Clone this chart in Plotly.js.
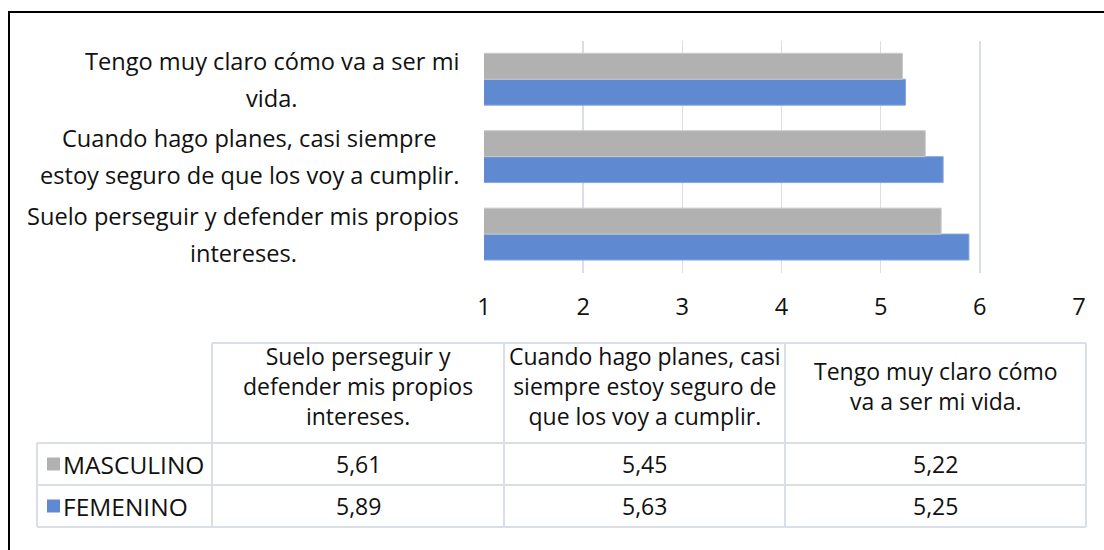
<!DOCTYPE html>
<html>
<head>
<meta charset="utf-8">
<script src="https://cdn.plot.ly/plotly-3.0.1.min.js"></script>
<style>html,body{margin:0;padding:0;background:#fff;}#chart{width:1104px;height:550px;}</style>
</head>
<body>
<div id="chart"></div>
<script>
// ---- data ----
const categories = [
  'Suelo perseguir y defender mis propios intereses.',
  'Cuando hago planes, casi siempre estoy seguro de que los voy a cumplir.',
  'Tengo muy claro cómo va a ser mi vida.'
];
const axisLabels = [
  'Suelo perseguir y defender mis propios<br>intereses.',
  'Cuando hago planes, casi siempre<br>estoy seguro de que los voy a cumplir.',
  'Tengo muy claro cómo va a ser mi<br>vida.'
];
const tableHeaders = [
  'Suelo perseguir y<br>defender mis propios<br>intereses.',
  'Cuando hago planes, casi<br>siempre estoy seguro de<br>que los voy a cumplir.',
  'Tengo muy claro cómo<br>va a ser mi vida.'
];
const seriesNames = ['MASCULINO', 'FEMENINO'];
const masculino = [5.61, 5.45, 5.22];
const femenino = [5.89, 5.63, 5.25];
const xTicks = [1, 2, 3, 4, 5, 6, 7];

// ---- styles ----
const W = 1104, H = 550;
const FONT = '"Open Sans", "Liberation Sans", sans-serif';
const FS = 23;
const FS_LABEL = 23.6;
const FS_ROW = 24.5;
const TXT = '#111111';
const colors = { MASCULINO: '#b1b1b1', FEMENINO: '#5f89d0' };
const lineColors = { MASCULINO: '#cacaca', FEMENINO: '#86a6de' };
const gridColor = '#dadee6';
const tableLine = '#dadee5';

const px = x => x / W;
const py = y => 1 - y / H;

const seriesValues = { MASCULINO: masculino, FEMENINO: femenino };

// bars: FEMENINO first so it is drawn below MASCULINO inside each group
const traces = ['FEMENINO', 'MASCULINO'].map(name => ({
  type: 'bar',
  orientation: 'h',
  name: name,
  y: categories,
  x: seriesValues[name],
  marker: { color: colors[name], line: { color: lineColors[name], width: 1 } },
  hoverinfo: 'none'
}));

const annotations = [];
const shapes = [];

// y-axis category labels (each line separately for the wider line spacing, block centred)
const ctx = document.createElement('canvas').getContext('2d');
ctx.font = FS_LABEL + 'px "Open Sans"';
const labelRight = 459;
const lineGap = 37;
axisLabels.forEach((lab, i) => {
  const lines = lab.split('<br>');
  const maxW = Math.max(...lines.map(l => ctx.measureText(l).width));
  const cx = labelRight - maxW / 2;
  lines.forEach((ln, j) => {
    annotations.push({
      xref: 'paper', yref: 'y', x: px(cx), y: categories[i],
      xanchor: 'center', yanchor: 'middle', showarrow: false,
      text: ln, font: { family: FONT, size: FS_LABEL, color: TXT },
      yshift: ((lines.length - 1) / 2 - j) * lineGap
    });
  });
});

// ---- data table ----
const colX = [37, 212, 504, 785, 1086];
const rowY = [343, 443, 485, 527];
const hl = (x0, x1, y) => shapes.push({ type: 'line', xref: 'paper', yref: 'paper', x0: px(x0), x1: px(x1), y0: py(y), y1: py(y), line: { color: tableLine, width: 2 } });
const vl = (x, y0, y1) => shapes.push({ type: 'line', xref: 'paper', yref: 'paper', x0: px(x), x1: px(x), y0: py(y0), y1: py(y1), line: { color: tableLine, width: 2 } });
hl(colX[1], colX[4], rowY[0]);
hl(colX[0], colX[4], rowY[1]);
hl(colX[0], colX[4], rowY[2]);
hl(colX[0], colX[4], rowY[3]);
vl(colX[0], rowY[1], rowY[3]);
for (let c = 1; c < colX.length; c++) vl(colX[c], rowY[0], rowY[3]);

tableHeaders.forEach((h, c) => {
  annotations.push({
    xref: 'paper', yref: 'paper', x: px((colX[c + 1] + colX[c + 2]) / 2), y: py(386),
    xanchor: 'center', yanchor: 'middle', align: 'center', showarrow: false,
    text: h, font: { family: FONT, size: FS, color: TXT }
  });
});

seriesNames.forEach((name, r) => {
  const yc = (rowY[r + 1] + rowY[r + 2]) / 2;
  // legend key
  shapes.push({ type: 'rect', xref: 'paper', yref: 'paper', x0: px(47), x1: px(60), y0: py(yc - 6.5), y1: py(yc + 6.5), fillcolor: colors[name], line: { width: 0 } });
  annotations.push({
    xref: 'paper', yref: 'paper', x: px(61), y: py(yc),
    xanchor: 'left', yanchor: 'middle', showarrow: false,
    text: name, font: { family: FONT, size: FS_ROW, color: TXT }
  });
  seriesValues[name].forEach((v, c) => {
    annotations.push({
      xref: 'paper', yref: 'paper', x: px((colX[c + 1] + colX[c + 2]) / 2), y: py(yc),
      xanchor: 'center', yanchor: 'middle', showarrow: false,
      text: v.toFixed(2).replace('.', ','), font: { family: FONT, size: FS, color: TXT }
    });
  });
});

// outer frame
shapes.push({ type: 'rect', xref: 'paper', yref: 'paper', x0: px(9), x1: 1.02, y0: -0.02, y1: py(12), line: { color: '#000', width: 2 }, fillcolor: 'rgba(0,0,0,0)' });

const layout = {
  width: W, height: H, autosize: false,
  margin: { l: 0, r: 0, t: 0, b: 0, pad: 0 },
  paper_bgcolor: '#fff', plot_bgcolor: '#fff',
  showlegend: false,
  barmode: 'group', bargap: 0.33, bargroupgap: 0,
  font: { family: FONT, size: FS, color: TXT },
  xaxis: {
    domain: [px(484), px(1079)],
    range: [1, 7], tickvals: xTicks, ticktext: xTicks.map(String),
    showgrid: true, gridcolor: gridColor, gridwidth: 1.5,
    zeroline: false, showline: false, ticks: '',
    ticklabelstandoff: 18,
    tickfont: { family: FONT, size: FS_LABEL, color: TXT },
    fixedrange: true
  },
  yaxis: {
    domain: [py(272.8), py(40.5)],
    type: 'category', categoryorder: 'array', categoryarray: categories,
    range: [-0.5, 2.5],
    showticklabels: false, showgrid: false, zeroline: false, showline: false, ticks: '',
    fixedrange: true
  },
  shapes: shapes,
  annotations: annotations
};

Plotly.newPlot('chart', traces, layout, { displayModeBar: false, staticPlot: true });
</script>
</body>
</html>
